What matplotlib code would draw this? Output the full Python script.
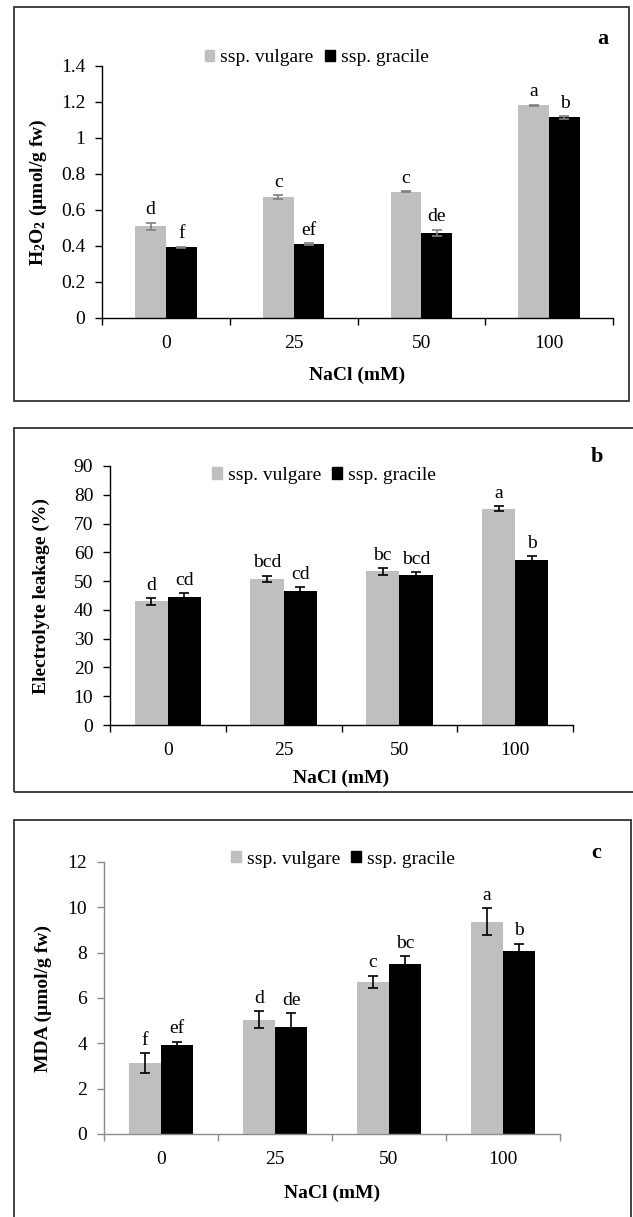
import numpy as np
import matplotlib.pyplot as plt
from matplotlib.patches import Rectangle, Patch
from matplotlib.ticker import FuncFormatter

plt.rcParams['font.family'] = ['Liberation Serif', 'DejaVu Serif']
plt.rcParams['mathtext.fontset'] = 'custom'
plt.rcParams['mathtext.rm'] = 'Liberation Serif'
plt.rcParams['mathtext.bf'] = 'Liberation Serif:bold'

# data
nacl = ['0', '25', '50', '100']
series = ['ssp. vulgare', 'ssp. gracile']

h2o2_vulgare = [0.51, 0.672, 0.702, 1.183]
h2o2_vulgare_err = [0.02, 0.01, 0.003, 0.003]
h2o2_gracile = [0.393, 0.412, 0.473, 1.115]
h2o2_gracile_err = [0.004, 0.006, 0.018, 0.008]
h2o2_letters_v = ['d', 'c', 'c', 'a']
h2o2_letters_g = ['f', 'ef', 'de', 'b']

el_vulgare = [43.0, 50.8, 53.4, 75.2]
el_vulgare_err = [1.2, 1.1, 1.2, 1.0]
el_gracile = [44.5, 46.7, 52.1, 57.4]
el_gracile_err = [1.2, 1.2, 1.1, 1.2]
el_letters_v = ['d', 'bcd', 'bc', 'a']
el_letters_g = ['cd', 'cd', 'bcd', 'b']

mda_vulgare = [3.13, 5.04, 6.71, 9.37]
mda_vulgare_err = [0.43, 0.37, 0.28, 0.59]
mda_gracile = [3.91, 4.74, 7.5, 8.06]
mda_gracile_err = [0.17, 0.58, 0.34, 0.34]
mda_letters_v = ['f', 'd', 'c', 'a']
mda_letters_g = ['ef', 'de', 'bc', 'b']

GRAY = '#bfbfbf'
W, H = 633, 1217
fig = plt.figure(figsize=(W / 100, H / 100), dpi=100)


def px_axes(l, r, t, b):
    return [l / W, 1 - b / H, (r - l) / W, (b - t) / H]


def panel(rect, vals_v, err_v, vals_g, err_g, lets_v, lets_g, ylim, yticks,
          width, ylabel, ecolor, spine_color, leg_xy, lab_x):
    ax = fig.add_axes(rect)
    x = np.arange(len(nacl))
    ax.bar(x - width / 2, vals_v, width, color=GRAY, yerr=err_v,
           error_kw=dict(ecolor=ecolor, elinewidth=1.2, capsize=3.5, capthick=1.2),
           label=series[0], zorder=2)
    ax.bar(x + width / 2, vals_g, width, color='black', yerr=err_g,
           error_kw=dict(ecolor=ecolor, elinewidth=1.2, capsize=3.5, capthick=1.2),
           label=series[1], zorder=2)
    for i in range(len(nacl)):
        ax.annotate(lets_v[i], (x[i] - width / 2, vals_v[i] + err_v[i]),
                    xytext=(0, 3), textcoords='offset points',
                    ha='center', va='bottom', fontsize=14)
        ax.annotate(lets_g[i], (x[i] + width / 2, vals_g[i] + err_g[i]),
                    xytext=(0, 3), textcoords='offset points',
                    ha='center', va='bottom', fontsize=14)
    ax.set_xlim(-0.5, len(nacl) - 0.5)
    ax.set_ylim(*ylim)
    ax.set_yticks(yticks)
    ax.yaxis.set_major_formatter(FuncFormatter(lambda v, p: '{:g}'.format(v)))
    # category boundaries as ticks, labels in between
    ax.set_xticks(np.arange(-0.5, len(nacl), 1.0))
    ax.set_xticklabels([])
    ax.set_xticks(x, minor=True)
    ax.set_xticklabels(nacl, minor=True)
    ax.tick_params(axis='x', which='major', length=5, width=1, color=spine_color)
    ax.tick_params(axis='x', which='minor', length=0, pad=12, labelsize=14)
    ax.tick_params(axis='y', length=5, width=1, color=spine_color, labelsize=14, pad=7)
    for s in ['top', 'right']:
        ax.spines[s].set_visible(False)
    for s in ['left', 'bottom']:
        ax.spines[s].set_color(spine_color)
        ax.spines[s].set_linewidth(1)
    ax.set_ylabel(ylabel, fontsize=14, fontweight='bold', va='center')
    ax.yaxis.set_label_coords(lab_x, 0.5)
    handles = [Patch(color=GRAY), Patch(color='black')]
    ax.legend(handles, series, loc='center', bbox_to_anchor=leg_xy, ncol=2,
              frameon=False, fontsize=14, handlelength=0.5, handleheight=0.55,
              handletextpad=0.3, columnspacing=0.6, borderaxespad=0)
    return ax


ax_a = panel(px_axes(102, 613, 66, 318), h2o2_vulgare, h2o2_vulgare_err,
             h2o2_gracile, h2o2_gracile_err, h2o2_letters_v, h2o2_letters_g,
             (0, 1.4), np.arange(0, 1.41, 0.2), 0.24,
             r'$\mathbf{H_2O_2}$ (µmol/g fw)', '#7f7f7f', 'black', (0.42, 1.032), -0.125)
ax_b = panel(px_axes(110, 573, 466, 725), el_vulgare, el_vulgare_err,
             el_gracile, el_gracile_err, el_letters_v, el_letters_g,
             (0, 90), np.arange(0, 91, 10), 0.287,
             'Electrolyte leakage (%)', 'black', 'black', (0.462, 0.965), -0.148)
ax_c = panel(px_axes(104, 560, 862, 1134), mda_vulgare, mda_vulgare_err,
             mda_gracile, mda_gracile_err, mda_letters_v, mda_letters_g,
             (0, 12), np.arange(0, 13, 2), 0.285,
             'MDA (µmol/g fw)', 'black', '#8c8c8c', (0.524, 1.011), -0.132)

# x axis titles
for ax, yp in [(ax_a, 375), (ax_b, 778), (ax_c, 1193)]:
    pos = ax.get_position()
    fig.text(pos.x0 + pos.width / 2, 1 - yp / H, 'NaCl (mM)', ha='center',
             va='center', fontsize=14, fontweight='bold')

# panel letters
for lab, xp, yp in [('a', 603, 39), ('b', 597, 457), ('c', 596, 853)]:
    fig.text(xp / W, 1 - yp / H, lab, ha='center', va='center',
             fontsize=16, fontweight='bold')

# panel frames
for l, t, r, b in [(14, 7, 629, 401), (14, 428, 645, 792), (14, 820, 631, 1230)]:
    fig.add_artist(Rectangle((l / W, 1 - b / H), (r - l) / W, (b - t) / H,
                             transform=fig.transFigure, fill=False,
                             edgecolor='#333333', linewidth=1.3))

fig.savefig('out.png', dpi=100)
